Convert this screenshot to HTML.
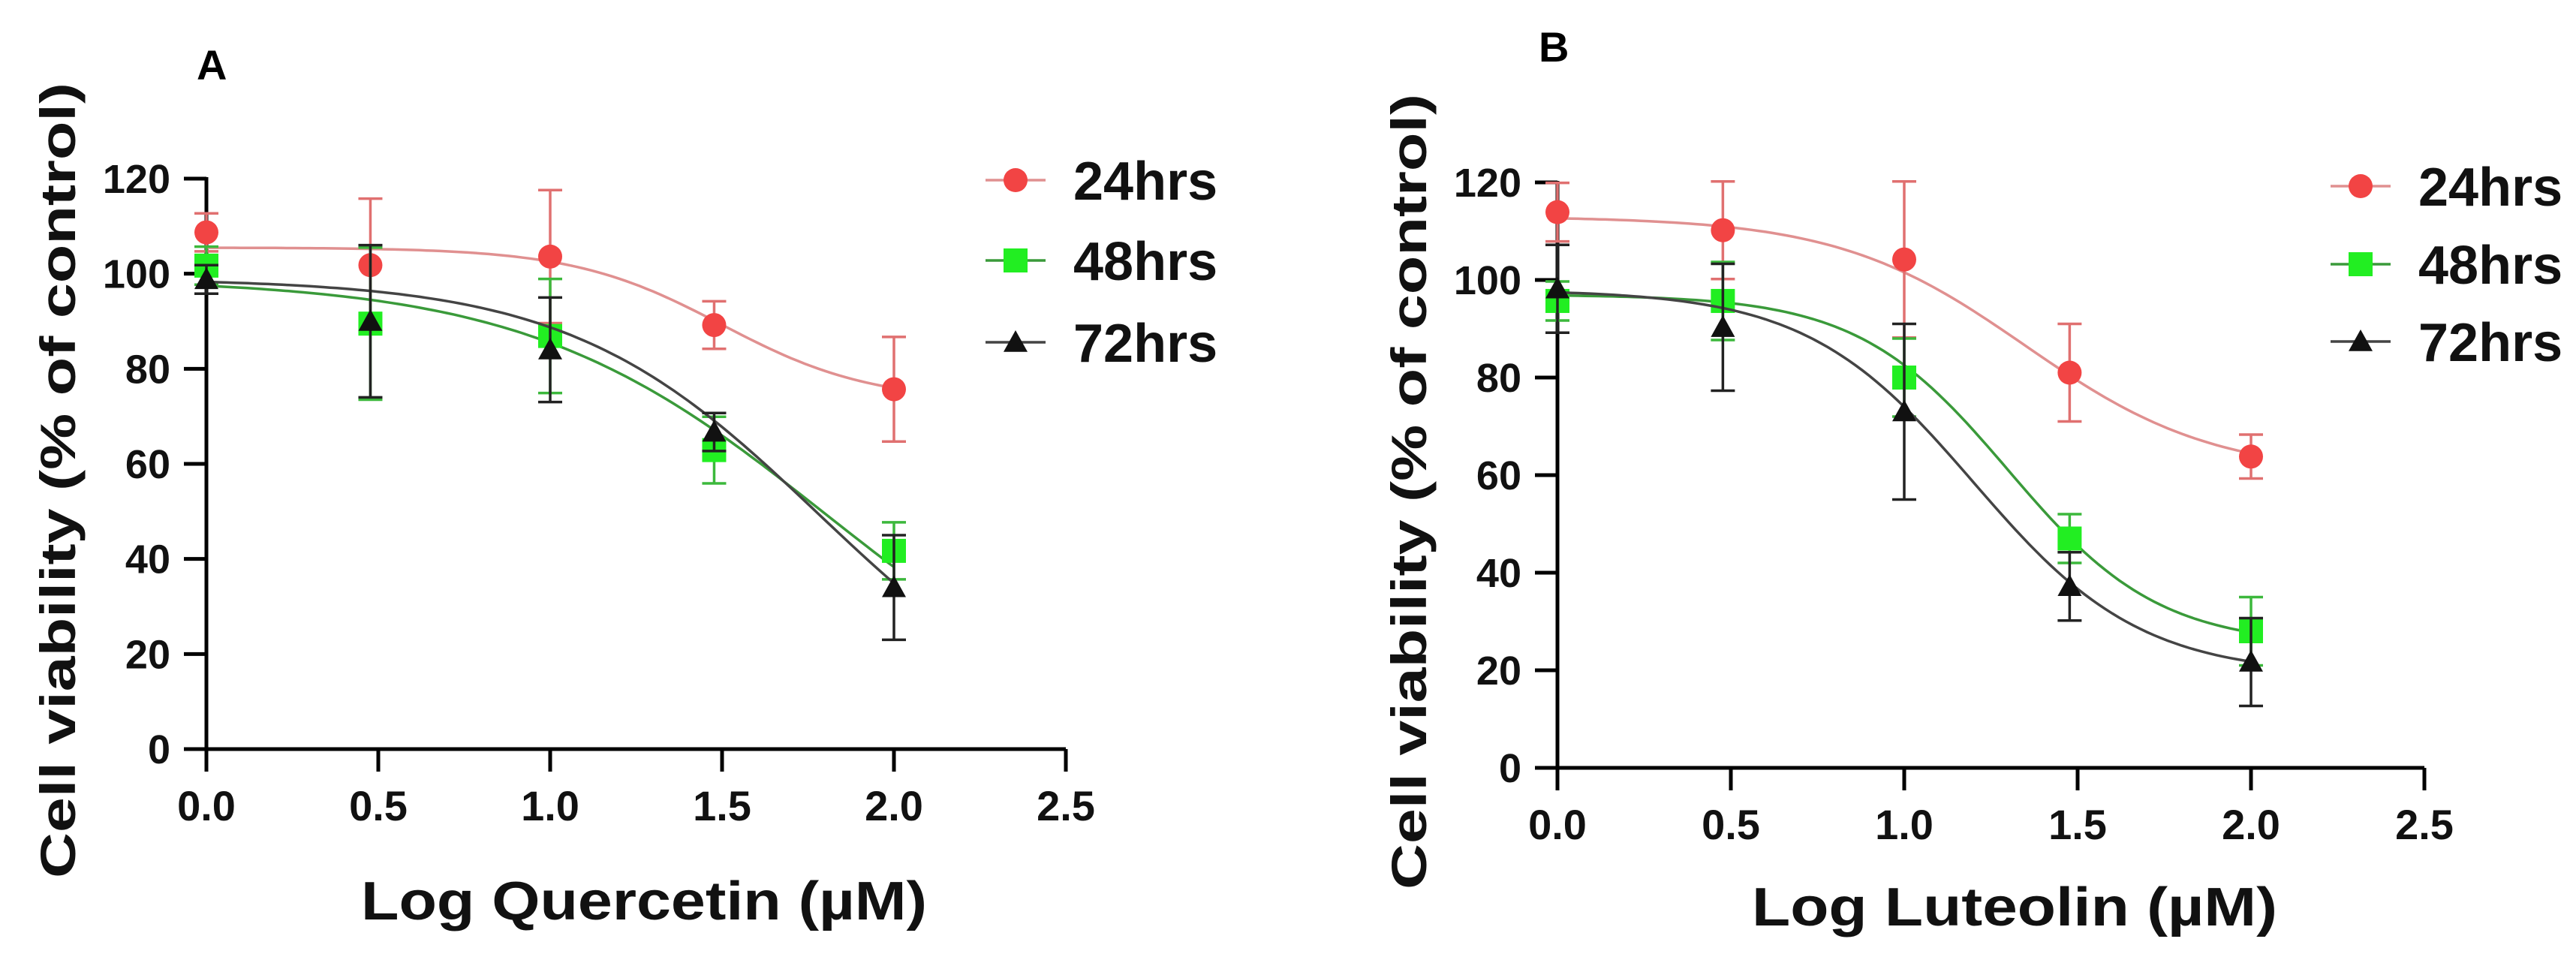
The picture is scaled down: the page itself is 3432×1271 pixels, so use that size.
<!DOCTYPE html>
<html><head><meta charset="utf-8"><style>
html,body{margin:0;padding:0;background:#fff;}
svg{display:block;font-family:"Liberation Sans",Arial,sans-serif;font-weight:bold;}
</style></head><body>
<svg id="fig" width="3432" height="1271" viewBox="0 0 3432 1271" xmlns="http://www.w3.org/2000/svg"></svg>
<script>
// ---- data ----
const doseX = [0, 0.477, 1.0, 1.477, 2.0];
const xTicks = [0, 0.5, 1.0, 1.5, 2.0, 2.5];
const xTickLabels = ["0.0","0.5","1.0","1.5","2.0","2.5"];
const yTicks = [0, 20, 40, 60, 80, 100, 120];
const seriesNames = ["24hrs","48hrs","72hrs"];
// Panel A (Quercetin)
const aMean24 = [108.7, 101.8, 103.6, 89.2, 75.7];
const aErr24  = [4, 14, 14, 5, 11];
const aMean48 = [101.7, 89.5, 86.9, 62.9, 41.7];
const aErr48  = [4, 16, 12, 7, 6];
const aMean72 = [98.8, 90, 84, 66.7, 34];
const aErr72  = [3, 16, 11, 4, 11];
// fit params: [top, bottom, logEC50, hill]
const aFit24 = [105.5, 73, 1.5, 2];
const aFit48 = [99, 0, 1.8, 1];
const aFit72 = [99, 0, 1.78, 1.2];
// Panel B (Luteolin)
const bMean24 = [113.9, 110.2, 104.2, 81, 63.8];
const bErr24  = [6, 10, 16, 10, 4.5];
const bMean48 = [95.7, 95.7, 80, 47, 28];
const bErr48  = [4, 8, 8, 5, 7];
const bMean72 = [98.2, 90.3, 73, 37.2, 21.7];
const bErr72  = [9, 13, 18, 7, 9];
const bFit24 = [113, 60, 1.35, 1.6];
const bFit48 = [97, 25, 1.3, 2];
const bFit72 = [98, 19, 1.2, 1.8];

const NS = "http://www.w3.org/2000/svg";
const svg = document.getElementById("fig");
function mk(tag, attrs, parent, text){
  const e = document.createElementNS(NS, tag);
  for (const k in attrs) e.setAttribute(k, attrs[k]);
  if (text !== undefined) e.textContent = text;
  (parent||svg).appendChild(e);
  return e;
}
const markerColor = ["#f24444","#22ee22","#111"];
const curveColor = ["#e09090","#3a9a3a","#444"];
const errColor = ["#e07070","#3cb83c","#222"];

function marker(g, type, cx, cy, s){
  let m;
  if (type===0) m = mk("circle",{cx:cx,cy:cy,r:s,fill:markerColor[0]},g);
  else if (type===1) m = mk("rect",{x:cx-s,y:cy-s,width:2*s,height:2*s,fill:markerColor[1]},g);
  else m = mk("polygon",{points:`${cx},${cy-s} ${cx+s},${cy+s*0.8} ${cx-s},${cy+s*0.8}`,fill:markerColor[2]},g);
  return m;
}

function panel(cfg){
  const g = mk("g",{});
  
  
  const X = v => cfg.x0 + v/2.5*(cfg.x25 - cfg.x0);
  const Y = v => cfg.y0 - v/120*(cfg.y0 - cfg.y120);
  const lt = mk("text",{x:cfg.letterX,y:cfg.letterY,"font-size":56,fill:"#000"},g,cfg.letter);
  
  
  const ax = mk("g",{stroke:"#000","stroke-width":5,fill:"none"},g);
  
  
  mk("line",{x1:X(0),y1:Y(120)-2,x2:X(0),y2:cfg.y0+30},ax);
  mk("line",{x1:X(0)-30,y1:Y(0),x2:X(2.5),y2:Y(0)},ax);
  yTicks.forEach(t=>{
    mk("line",{x1:X(0)-30,y1:Y(t),x2:X(0),y2:Y(t)},ax);
    const tl = mk("text",{x:X(0)-48,y:Y(t)+19,"font-size":54,"text-anchor":"end",fill:"#111",stroke:"none"},g,String(t));
    
    
  });
  xTicks.forEach((t,i)=>{
    mk("line",{x1:X(t),y1:Y(0),x2:X(t),y2:Y(0)+30},ax);
    const tl = mk("text",{x:X(t),y:Y(0)+95,"font-size":56,"text-anchor":"middle",fill:"#111",stroke:"none"},g,xTickLabels[i]);
    
    
  });
  const yt = mk("text",{x:0,y:0,"font-size":66,"text-anchor":"middle",fill:"#111",transform:`translate(${cfg.yTitleX},${cfg.yTitleY}) rotate(-90)`,textLength:1060,lengthAdjust:"spacingAndGlyphs"},g,"Cell viability (% of control)");
  
  
  const xt = mk("text",{x:cfg.xTitleX,y:cfg.xTitleY,"font-size":72,"text-anchor":"middle",fill:"#111",textLength:cfg.xTitleW,lengthAdjust:"spacingAndGlyphs"},g,cfg.xTitle);
  
  
  cfg.series.forEach((s,si)=>{
    const sg = mk("g",{},g);
    
    
    const [top,bot,ec,h] = s.fit;
    let d = "";
    for (let k=0;k<=100;k++){
      const xv = 2.0*k/100;
      const yv = bot + (top-bot)/(1+Math.pow(10,(xv-ec)*h));
      d += (k?"L":"M") + X(xv).toFixed(1) + "," + Y(yv).toFixed(1);
    }
    const c = mk("path",{d:d,fill:"none",stroke:curveColor[si],"stroke-width":3.5},sg);
    
    
    s.mean.forEach((m,i)=>{
      const px = X(doseX[i]);
      const eb = mk("path",{d:`M${px},${Y(m+s.err[i])}V${Y(m-s.err[i])}M${px-16},${Y(m+s.err[i])}h32M${px-16},${Y(m-s.err[i])}h32`,stroke:errColor[si],"stroke-width":3.5,fill:"none"},sg);
      
      
      const pt = marker(sg, si, px, Y(m), 16);
      
      
    });
  });
  const lg = mk("g",{},g);
  
  
  seriesNames.forEach((n,si)=>{
    const ly = cfg.legY[si];
    const e = mk("g",{},lg);
    
    
    mk("line",{x1:cfg.legX-40,y1:ly,x2:cfg.legX+40,y2:ly,stroke:curveColor[si],"stroke-width":3.5},e);
    marker(e, si, cfg.legX, ly, 16);
    mk("text",{x:cfg.legX+77,y:ly+26,"font-size":72,fill:"#111"},e,n);
  });
}

panel({name:"panel-a-quercetin",letter:"A",letterX:262,letterY:106,x0:275,x25:1420,y0:998,y120:238,
  yTitleX:100,yTitleY:640,xTitle:"Log Quercetin (µM)",xTitleX:858,xTitleY:1225,xTitleW:754,
  legX:1353,legY:[240,347,456],
  series:[{mean:aMean24,err:aErr24,fit:aFit24},{mean:aMean48,err:aErr48,fit:aFit48},{mean:aMean72,err:aErr72,fit:aFit72}]});
panel({name:"panel-b-luteolin",letter:"B",letterX:2050,letterY:82,x0:2075,x25:3230,y0:1023,y120:243,
  yTitleX:1900,yTitleY:655,xTitle:"Log Luteolin (µM)",xTitleX:2684,xTitleY:1233,xTitleW:700,
  legX:3145,legY:[248,352,455],
  series:[{mean:bMean24,err:bErr24,fit:bFit24},{mean:bMean48,err:bErr48,fit:bFit48},{mean:bMean72,err:bErr72,fit:bFit72}]});
</script>
</body></html>
